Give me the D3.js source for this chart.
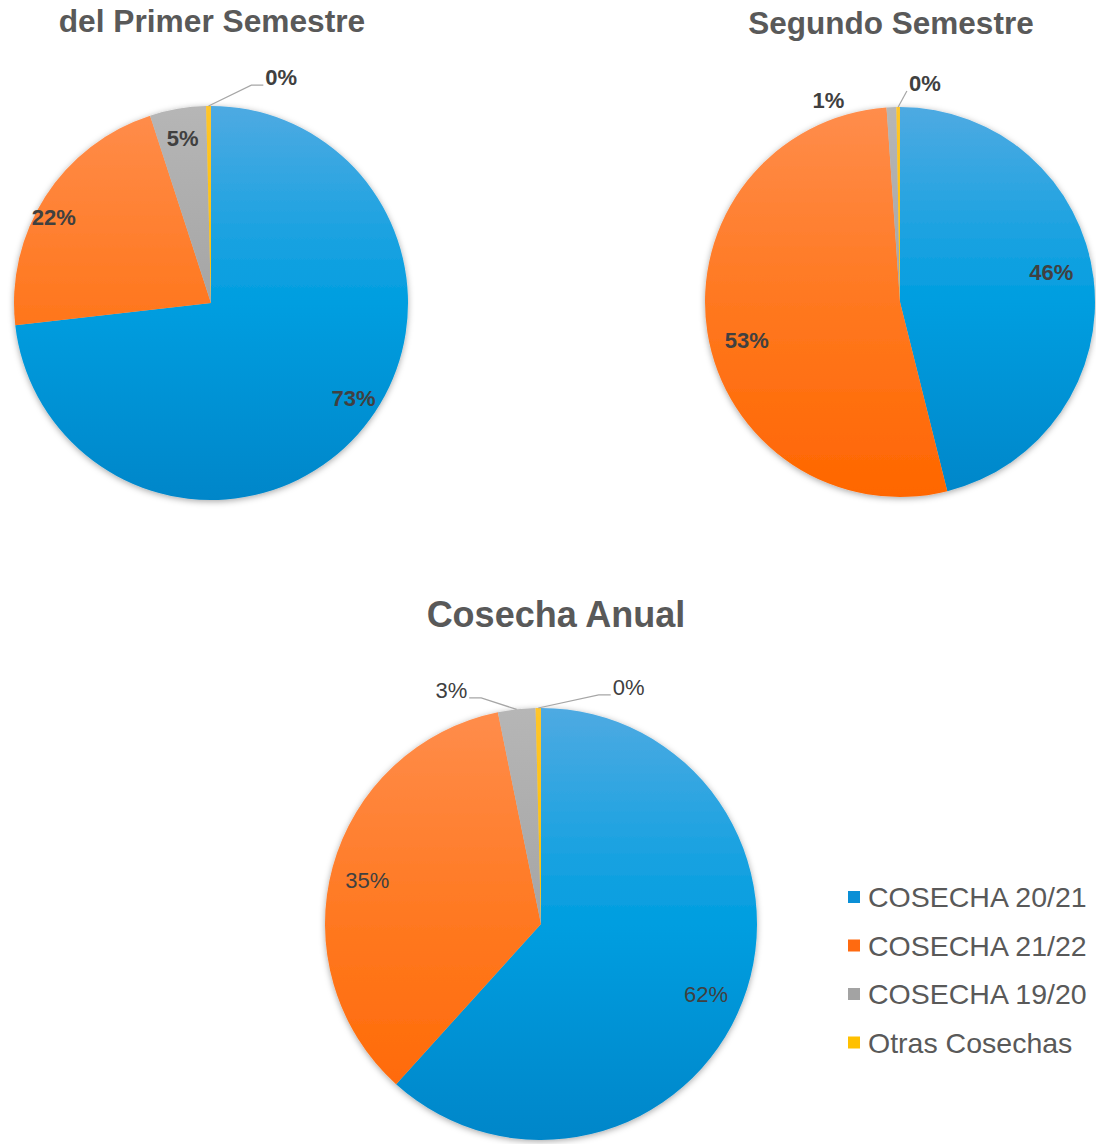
<!DOCTYPE html>
<html lang="es">
<head>
<meta charset="UTF-8">
<title>Cosechas</title>
<script src="https://d3js.org/d3.v7.min.js"></script>
<style>
  body { margin: 0; background: #fff; }
  text { font-family: "Liberation Sans", Arial, sans-serif; }
</style>
</head>
<body>
<div id="chart"></div>
<script>
// data
const categories = ["COSECHA 20/21", "COSECHA 21/22", "COSECHA 19/20", "Otras Cosechas"];
const primerSemestre = [73.2, 21.8, 4.6, 0.4];
const segundoSemestre = [46.1, 52.8, 0.8, 0.3];
const cosechaAnual = [61.7, 35.1, 2.8, 0.4];
const titles = ["del Primer Semestre", "Segundo Semestre", "Cosecha Anual"];

// colours: [top, middle, bottom] of the vertical gradient, plus legend swatch
const colors = [
  { stops: ["#4eaae2", "#009ee0", "#0086c9"], key: "#0a8fd6" },
  { stops: ["#ff8d4c", "#ff7820", "#ff6600"], key: "#ff6a10" },
  { stops: ["#b6b6b6", "#a5a5a5", "#959595"], key: "#a3a3a3" },
  { stops: ["#ffc52a", "#ffc000", "#f5b400"], key: "#ffc000" }
];

// layout of each pie and where its labels sit (da = angle nudge in degrees, k = radius factor)
const charts = [
  { values: primerSemestre, title: titles[0], cx: 211, cy: 303, r: 197,
    tx: 212, ty: 32, tsize: 31.7, weight: "bold",
    labels: [{ da: -8, k: 0.87 }, { da: -4, k: 0.91 }, { da: 0, k: 0.85 },
             { da: 18, k: 1.2, out: true, leader: true }] },
  { values: segundoSemestre, title: titles[1], cx: 900, cy: 302, r: 195,
    tx: 891, ty: 34, tsize: 31.5, weight: "bold",
    labels: [{ da: -4, k: 0.79 }, { da: -5, k: 0.81 },
             { da: -17, k: 1.1, out: true, leader: false },
             { da: 7, k: 1.13, out: true, leader: true }] },
  { values: cosechaAnual, title: titles[2], cx: 541, cy: 924, r: 216,
    tx: 556, ty: 627, tsize: 36, weight: "normal",
    labels: [{ da: 2, k: 0.83 }, { da: -1, k: 0.83 },
             { da: -14.5, k: 1.16, out: true, leader: true },
             { da: 21, k: 1.17, out: true, leader: true }] }
];

const width = 1096, height = 1144;
const svg = d3.select("#chart").append("svg")
  .attr("width", width)
  .attr("height", height);

const defs = svg.append("defs");
const shadow = defs.append("filter").attr("id", "shadow")
  .attr("x", "-10%").attr("y", "-10%").attr("width", "120%").attr("height", "120%");
shadow.append("feDropShadow")
  .attr("dx", 0).attr("dy", 1.5).attr("stdDeviation", 3)
  .attr("flood-color", "#000").attr("flood-opacity", 0.35);

const pie = d3.pie().sort(null).value(d => d);
const pct = d3.format(".0%");

charts.forEach((c, ci) => {
  // gradients spanning this pie top to bottom (in the pie group's own coordinates)
  colors.forEach((col, i) => {
    const g = defs.append("linearGradient")
      .attr("id", `g${ci}_${i}`)
      .attr("gradientUnits", "userSpaceOnUse")
      .attr("x1", 0).attr("x2", 0)
      .attr("y1", -c.r).attr("y2", c.r);
    g.append("stop").attr("offset", "0%").attr("stop-color", col.stops[0]);
    g.append("stop").attr("offset", "50%").attr("stop-color", col.stops[1]);
    g.append("stop").attr("offset", "100%").attr("stop-color", col.stops[2]);
  });

  svg.append("text")
    .attr("x", c.tx).attr("y", c.ty)
    .attr("text-anchor", "middle")
    .attr("font-size", c.tsize + "px")
    .attr("font-weight", "bold")
    .attr("fill", "#595959")
    .text(c.title);

  const total = d3.sum(c.values);
  const arcs = pie(c.values);
  const arc = d3.arc().innerRadius(0).outerRadius(c.r);

  const g = svg.append("g").attr("transform", `translate(${c.cx},${c.cy})`);
  g.append("g").attr("filter", "url(#shadow)")
    .selectAll("path")
    .data(arcs)
    .join("path")
    .attr("d", arc)
    .attr("fill", (d, i) => `url(#g${ci}_${i})`);

  const labelG = g.append("g");
  arcs.forEach((d, i) => {
    const cfg = c.labels[i];
    const mid = (d.startAngle + d.endAngle) / 2;
    const a = mid + cfg.da * Math.PI / 180;
    const lx = c.r * cfg.k * Math.sin(a);
    const ly = -c.r * cfg.k * Math.cos(a);
    const t = labelG.append("text")
      .attr("x", lx).attr("y", ly)
      .attr("dy", "0.36em")
      .attr("text-anchor", "middle")
      .attr("font-size", "22px")
      .attr("font-weight", c.weight)
      .attr("fill", "#404040")
      .text(pct(d.value / total));

    if (cfg.out && cfg.leader) {
      const bb = t.node().getBBox();
      const p0 = [c.r * Math.sin(mid), -c.r * Math.cos(mid)];
      const right = lx > p0[0];
      const p2 = [right ? bb.x - 2 : bb.x + bb.width + 2, bb.y + bb.height - 5];
      const pts = [p0];
      if (Math.abs(p2[0] - p0[0]) > 24) pts.push([p2[0] + (right ? -12 : 12), p2[1]]);
      pts.push(p2);
      labelG.append("path")
        .attr("d", d3.line()(pts))
        .attr("fill", "none")
        .attr("stroke", "#a6a6a6")
        .attr("stroke-width", 1.2);
    }
  });
});

// legend
const legend = svg.append("g").attr("transform", "translate(848,897)");
const rowH = 48.5;
categories.forEach((name, i) => {
  const row = legend.append("g").attr("transform", `translate(0,${i * rowH})`);
  row.append("rect")
    .attr("x", 0).attr("y", -6)
    .attr("width", 12).attr("height", 12)
    .attr("fill", colors[i].key);
  row.append("text")
    .attr("x", 20).attr("y", 0)
    .attr("dy", "0.36em")
    .attr("font-size", "28.5px")
    .attr("fill", "#595959")
    .text(name);
});
</script>
</body>
</html>
